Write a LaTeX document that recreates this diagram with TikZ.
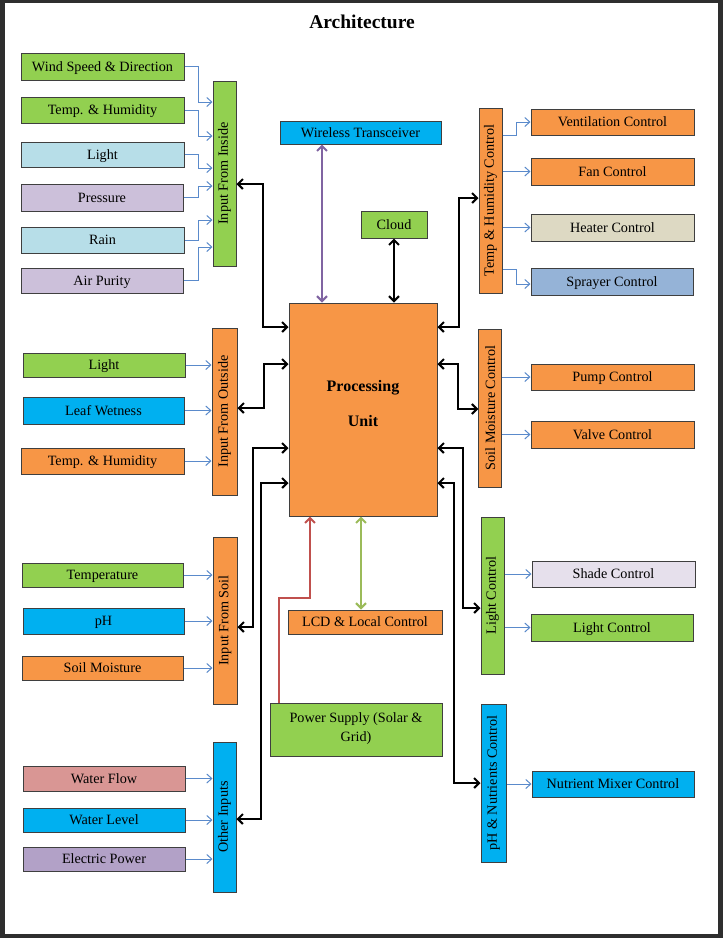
\documentclass[tikz,border=0pt]{standalone}
\usepackage{fontspec}
\setmainfont{Liberation Serif}
\usetikzlibrary{arrows.meta}
\definecolor{cgreen}{HTML}{92D050}
\definecolor{corange}{HTML}{F79646}
\definecolor{ccyan}{HTML}{00B0F0}
\definecolor{cltblue}{HTML}{B7DEE8}
\definecolor{clav}{HTML}{CCC0DA}
\definecolor{cbeige}{HTML}{DDD9C3}
\definecolor{cspray}{HTML}{95B3D7}
\definecolor{cshade}{HTML}{E6E0EC}
\definecolor{cpink}{HTML}{D99694}
\definecolor{cpurp}{HTML}{B2A1C7}
\definecolor{cborder}{HTML}{3F3F3F}
\definecolor{carrowblue}{HTML}{5A8ACB}
\definecolor{cviolet}{HTML}{8064A2}
\definecolor{cleaf}{HTML}{9BBB59}
\definecolor{cred}{HTML}{C0504D}
\definecolor{cframe}{HTML}{2E2E2E}
\tikzset{
  vbox/.style={draw=cborder, line width=1pt, inner sep=0pt, align=center,
    font=\fontsize{14.2}{16}\selectfont, text=black},
  box/.style={vbox, text height=9.5pt, text depth=0pt},
  bluearr/.style={draw=carrowblue, line width=1pt, -{Straight Barb[length=5pt,width=9pt]}},
  blkarr/.style={draw=black, line width=2pt, {Straight Barb[length=5pt,width=10pt]}-{Straight Barb[length=5pt,width=10pt]}},
  violetarr/.style={draw=cviolet, line width=2pt, {Straight Barb[length=5pt,width=10pt]}-{Straight Barb[length=5pt,width=10pt]}},
  leafarr/.style={draw=cleaf, line width=2pt, {Straight Barb[length=5pt,width=10pt]}-{Straight Barb[length=5pt,width=10pt]}},
  redarr/.style={draw=cred, line width=2pt, -{Straight Barb[length=5pt,width=10pt]}},
}
\begin{document}
\begin{tikzpicture}[x=1pt,y=-1pt]
\useasboundingbox (0,0) rectangle (723,938);
\fill[cframe] (0,0) rectangle (723,938);
\fill[white] (5,3) rectangle (718,934);

\node[font=\fontsize{19.5}{22}\selectfont\bfseries] (title) at (362,22) {Architecture};

% Left group 1
\node[box, fill=cgreen, minimum width=163, minimum height=27] (wind) at (102.5,66.5) {Wind Speed \& Direction};
\node[box, fill=cgreen, minimum width=163, minimum height=26] (th1) at (102.5,110) {Temp. \& Humidity};
\node[box, fill=cltblue, minimum width=163, minimum height=25] (light1) at (102.5,154.5) {Light};
\node[box, fill=clav, minimum width=162, minimum height=27] (press) at (102,197.5) {Pressure};
\node[box, fill=cltblue, minimum width=163, minimum height=26] (rain) at (102.5,240) {Rain};
\node[box, fill=clav, minimum width=162, minimum height=25] (air) at (102,280.5) {Air Purity};
\node[vbox, fill=cgreen, minimum width=23, minimum height=185] (ifi) at (224.5,173.5) {\rotatebox{90}{Input From Inside}};

% Left group 2
\node[box, fill=cgreen, minimum width=162, minimum height=24] (light2) at (104,365) {Light};
\node[box, fill=ccyan, minimum width=161, minimum height=27] (leaf) at (103.5,410.5) {Leaf Wetness};
\node[box, fill=corange, minimum width=163, minimum height=26] (th2) at (102.5,461) {Temp. \& Humidity};
\node[vbox, fill=corange, minimum width=25, minimum height=167] (ifo) at (224.5,411.5) {\rotatebox{90}{Input From Outside}};

% Left group 3
\node[box, fill=cgreen, minimum width=161, minimum height=24] (temp) at (102.5,575) {Temperature};
\node[box, fill=ccyan, minimum width=161, minimum height=26] (ph) at (103.5,621) {pH};
\node[box, fill=corange, minimum width=161, minimum height=24] (soilm) at (102.5,668) {Soil Moisture};
\node[vbox, fill=corange, minimum width=24, minimum height=167] (ifs) at (225,620.5) {\rotatebox{90}{Input From Soil}};

% Left group 4
\node[box, fill=cpink, minimum width=162, minimum height=25] (wflow) at (104,778.5) {Water Flow};
\node[box, fill=ccyan, minimum width=162, minimum height=24] (wlevel) at (104,820) {Water Level};
\node[box, fill=cpurp, minimum width=162, minimum height=24] (epower) at (104,859) {Electric Power};
\node[vbox, fill=ccyan, minimum width=23, minimum height=150] (oth) at (224.5,817) {\rotatebox{90}{Other Inputs}};

% Centre
\node[box, fill=ccyan, minimum width=161, minimum height=23] (wt) at (360.5,132.5) {Wireless Transceiver};
\node[box, fill=cgreen, minimum width=66, minimum height=27] (cloud) at (394,224.5) {Cloud};
\node[vbox, fill=corange, minimum width=148, minimum height=213] (pu) at (363,409.5) {};
\node[font=\fontsize{16}{19}\selectfont\bfseries, align=center] (putxt) at (363,404) {Processing\\[16pt]Unit};
\node[box, fill=corange, minimum width=154, minimum height=24] (lcd) at (365,622) {LCD \& Local Control};
\node[vbox, fill=cgreen, minimum width=172, minimum height=53, font=\fontsize{14.2}{19}\selectfont] (power) at (356,729.5) {Power Supply (Solar \&\\Grid)\\[-15pt]};

% Right vertical
\node[vbox, fill=corange, minimum width=23, minimum height=185] (thc) at (490.5,200.5) {\rotatebox{90}{Temp \& Humidity Control}};
\node[vbox, fill=corange, minimum width=23, minimum height=158] (smc) at (490.3,408) {\rotatebox{90}{Soil Moisture Control}};
\node[vbox, fill=cgreen, minimum width=23, minimum height=157] (lc) at (492.5,595.5) {\rotatebox{90}{Light Control}};
\node[vbox, fill=ccyan, minimum width=25, minimum height=158] (phc) at (493.5,783) {\rotatebox{90}{pH \& Nutrients Control}};

% Right outputs
\node[box, fill=corange, minimum width=163, minimum height=26] (vent) at (612.5,122) {Ventilation Control};
\node[box, fill=corange, minimum width=163, minimum height=27] (fan) at (612.5,171.5) {Fan Control};
\node[box, fill=cbeige, minimum width=163, minimum height=27] (heater) at (612.5,227.5) {Heater Control};
\node[box, fill=cspray, minimum width=162, minimum height=27] (spray) at (612,281.5) {Sprayer Control};
\node[box, fill=corange, minimum width=163, minimum height=26] (pump) at (612.5,377) {Pump Control};
\node[box, fill=corange, minimum width=163, minimum height=27] (valve) at (612.5,434.5) {Valve Control};
\node[box, fill=cshade, minimum width=163, minimum height=26] (shade) at (613.5,574) {Shade Control};
\node[box, fill=cgreen, minimum width=162, minimum height=27] (lc2) at (612,627.5) {Light Control};
\node[box, fill=ccyan, minimum width=162, minimum height=26] (nmc) at (613,784) {Nutrient Mixer Control};

% Blue arrows, group 1
\draw[bluearr] (wind.east) -- ++(14,0) |- (ifi.west |- 0,102);
\draw[bluearr] (th1.east) -- ++(14,0) |- (ifi.west |- 0,136);
\draw[bluearr] (light1.east) -- ++(14,0) |- (ifi.west |- 0,168);
\draw[bluearr] (press.east) -- ++(15,0) |- (ifi.west |- 0,186);
\draw[bluearr] (rain.east) -- ++(14,0) |- (ifi.west |- 0,220);
\draw[bluearr] (air.east) -- ++(15,0) |- (ifi.west |- 0,247);
% group 2-4
\draw[bluearr] (light2.east) -- (ifo.west |- light2.east);
\draw[bluearr] (leaf.east) -- (ifo.west |- leaf.east);
\draw[bluearr] (th2.east) -- (ifo.west |- th2.east);
\draw[bluearr] (temp.east) -- (ifs.west |- temp.east);
\draw[bluearr] (ph.east) -- (ifs.west |- ph.east);
\draw[bluearr] (soilm.east) -- (ifs.west |- soilm.east);
\draw[bluearr] (wflow.east) -- (oth.west |- wflow.east);
\draw[bluearr] (wlevel.east) -- (oth.west |- wlevel.east);
\draw[bluearr] (epower.east) -- (oth.west |- epower.east);
% right blue
\draw[bluearr] (thc.east |- 0,135) -- ++(14,0) |- (vent.west);
\draw[bluearr] (thc.east |- fan.west) -- (fan.west);
\draw[bluearr] (thc.east |- heater.west) -- (heater.west);
\draw[bluearr] (thc.east |- 0,269) -- ++(14,0) |- (spray.west |- 0,284);
\draw[bluearr] (smc.east |- pump.west) -- (pump.west);
\draw[bluearr] (smc.east |- valve.west) -- (valve.west);
\draw[bluearr] (lc.east |- shade.west) -- (shade.west);
\draw[bluearr] (lc.east |- lc2.west) -- (lc2.west);
\draw[bluearr] (phc.east |- nmc.west) -- (nmc.west);

% Black connectors
\draw[blkarr] (ifi.east |- 0,184) -- ++(26,0) |- (pu.west |- 0,327);
\draw[blkarr] (ifo.east |- 0,408) -- ++(26,0) |- (pu.west |- 0,364);
\draw[blkarr] (ifs.east |- 0,627) -- ++(15,0) |- (pu.west |- 0,448);
\draw[blkarr] (oth.east |- 0,819) -- ++(24,0) |- (pu.west |- 0,483);
\draw[blkarr] (pu.east |- 0,327) -- ++(21,0) |- (thc.west |- 0,198);
\draw[blkarr] (pu.east |- 0,364) -- ++(20,0) |- (smc.west |- 0,409);
\draw[blkarr] (pu.east |- 0,448) -- ++(25,0) |- (lc.west |- 0,608);
\draw[blkarr] (pu.east |- 0,483) -- ++(16,0) |- (phc.west |- 0,783);
\draw[blkarr] (cloud.south) -- (pu.north -| cloud.south);

% Coloured connectors
\draw[violetarr] (wt.south -| 322,0) -- (pu.north -| 322,0);
\draw[leafarr] (lcd.north -| 361,0) -- (pu.south -| 361,0);
\draw[redarr] (power.north -| 279,0) -- ++(0,-105) -| (pu.south -| 310,0);
\end{tikzpicture}
\end{document}
